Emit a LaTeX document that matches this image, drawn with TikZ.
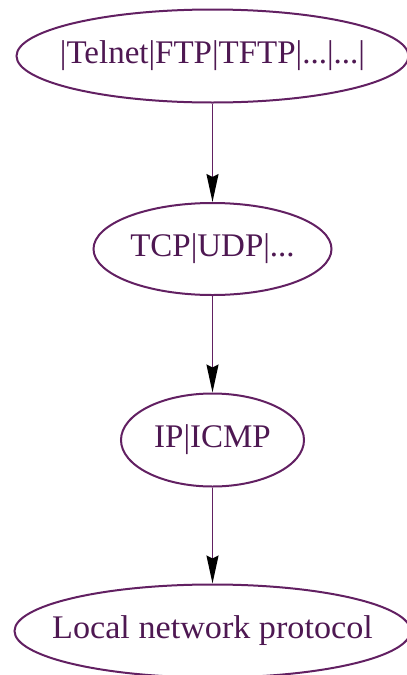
\documentclass[tikz,border=0pt]{standalone}
\usepackage{fontspec}
\setmainfont{Liberation Serif}
\usetikzlibrary{shapes.geometric,arrows.meta}
\definecolor{linepurple}{RGB}{98,32,98}
\definecolor{textpurple}{RGB}{78,24,82}
\tikzset{
  layer/.style={ellipse, draw=linepurple, line width=2pt, inner sep=0pt,
    text=textpurple, font=\fontsize{33}{33}\selectfont},
  link/.style={draw=linepurple, line width=1.8pt,
    -{Stealth[length=28pt, width=12pt, inset=3pt, color=black]}}
}
% label of zero width, so that the ellipse keeps its given size
\newcommand{\flatlabel}[1]{\makebox[0pt]{#1}}
\begin{document}
\begin{tikzpicture}[x=1pt, y=1pt]
  \useasboundingbox (0,0) rectangle (407,-675);
  \node[layer, minimum width=392pt, minimum height=93pt] (app) at (212.5,-56) {\flatlabel{|Telnet|FTP|TFTP|...|...|}};
  \node[layer, minimum width=238pt, minimum height=92pt] (trans) at (212.5,-249) {\flatlabel{TCP|UDP|...}};
  \node[layer, minimum width=183pt, minimum height=93pt] (net) at (212.5,-440) {\flatlabel{IP|ICMP}};
  \node[layer, minimum width=396pt, minimum height=93pt] (link) at (212.5,-631) {\flatlabel{\scalebox{1.035}[1]{Local network protocol}}};
  \draw[link] (app) -- (trans);
  \draw[link] (trans) -- (net);
  \draw[link] (net) -- (link);
\end{tikzpicture}
\end{document}
